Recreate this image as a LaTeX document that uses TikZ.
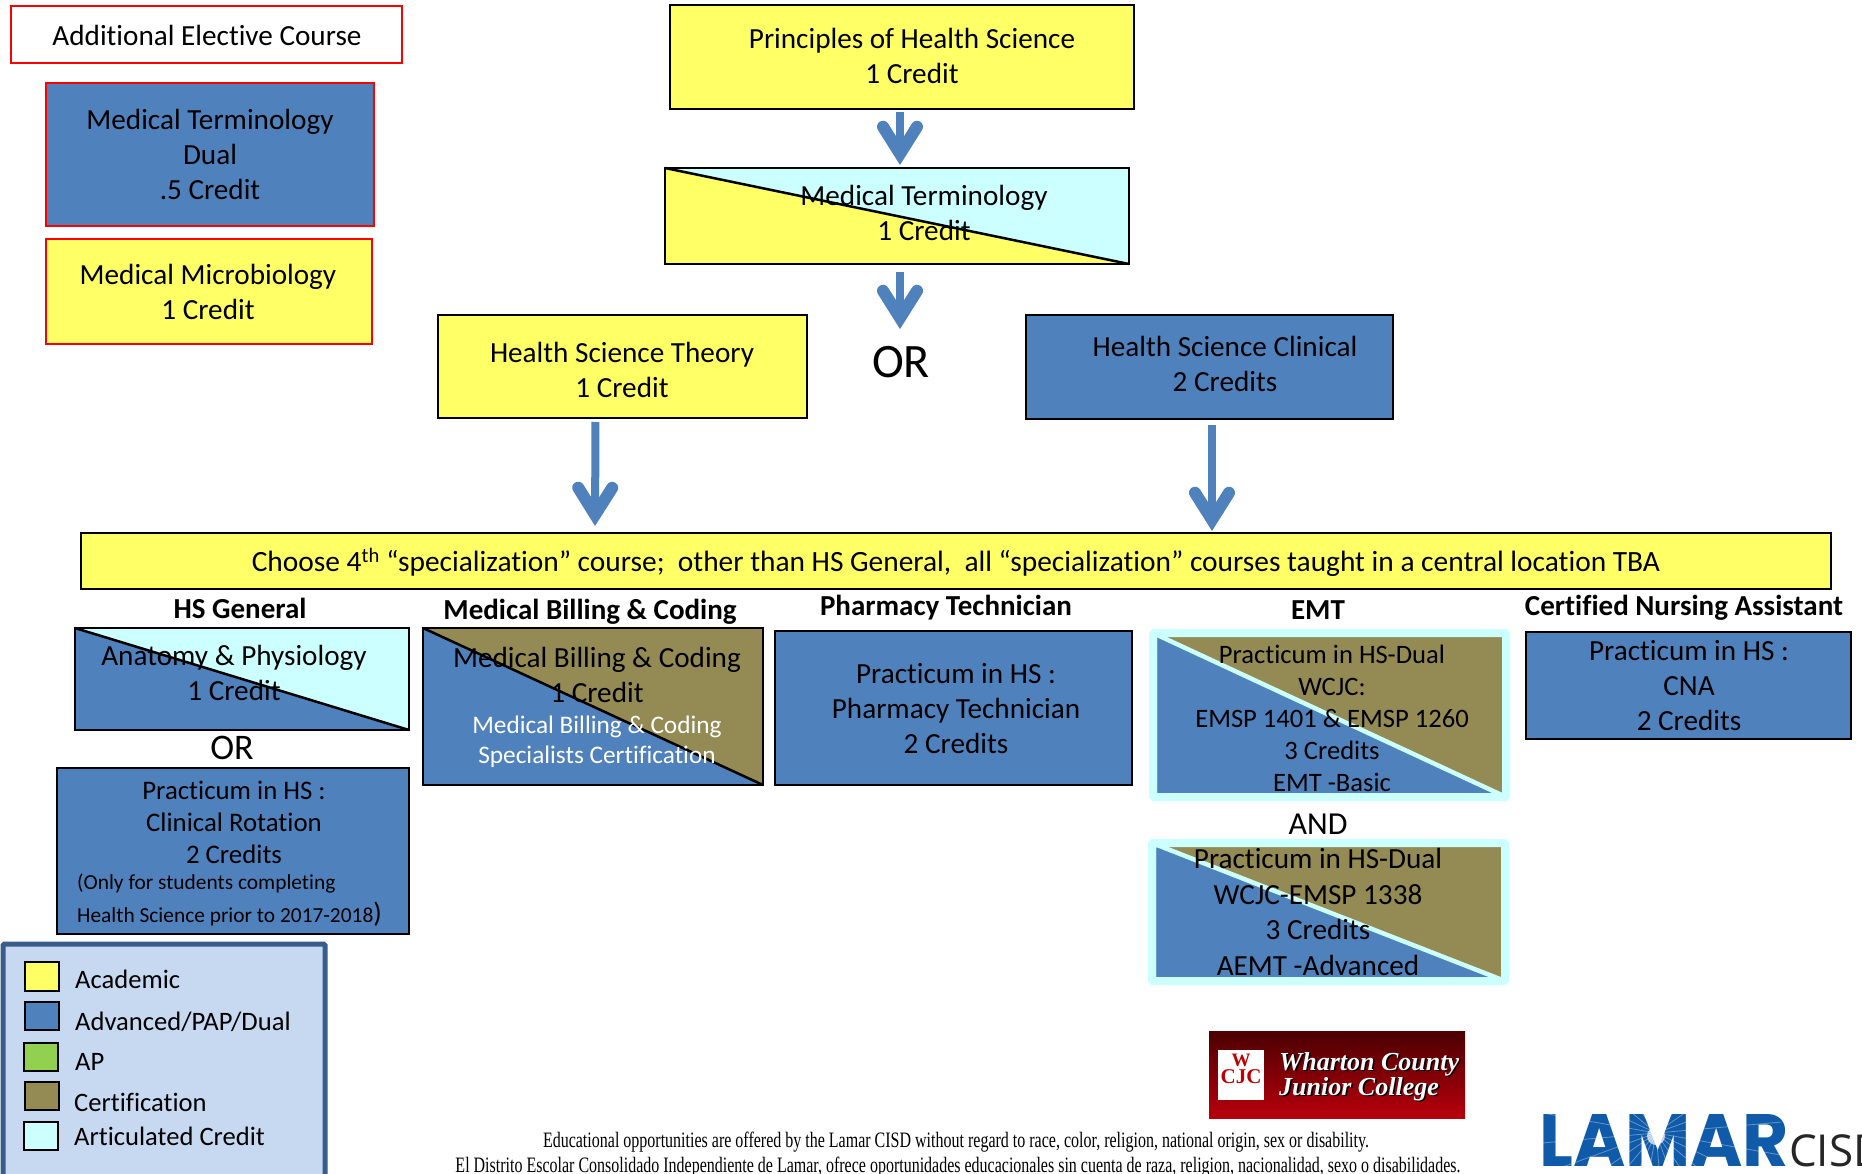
\documentclass[tikz,border=0pt]{standalone}
\usepackage{fontspec}
\usepackage{graphicx}
\setmainfont[Ligatures=CommonOff]{Carlito}
\newfontfamily\serifnote{Liberation Serif}
\newfontfamily\lamarfont{Poppins}
\newfontfamily\cisdfont{Open Sans}
\usetikzlibrary{arrows.meta}
\definecolor{cyel}{HTML}{FFFF66}
\definecolor{cblu}{HTML}{4F81BD}
\definecolor{colv}{HTML}{948A54}
\definecolor{ccya}{HTML}{CCFFFF}
\definecolor{cgrn}{HTML}{92D050}
\definecolor{cleg}{HTML}{C6D9F1}
\definecolor{cbrd}{HTML}{385D8A}
\definecolor{clam}{HTML}{0F5BAA}
\definecolor{wctop}{HTML}{4A0002}
\definecolor{wcbot}{HTML}{B8000C}
\newcommand{\fs}[2]{\fontsize{#1}{#2}\selectfont}
\newcommand{\mkbox}[6]{\node[cbox,#6,minimum width={(#4-#2)*1pt},minimum height={(#5-#3)*1pt}] (#1) at ({(#2+#4)/2},{(#3+#5)/2}) {};}
\newcommand{\splitbox}[7]{% name x1 y1 x2 y2 lowerfill upperfill
  \mkbox{#1}{#2}{#3}{#4}{#5}{fill=#6}
  \fill[#7] (#1.north west) -- (#1.north east) -- (#1.south east) -- cycle;
  \draw[line width=2.5pt] (#1.north west) -- (#1.south east);
  \draw[line width=2.5pt] (#1.north west) rectangle (#1.south east);}
\newcommand{\emtbox}[5]{% name x1 y1 x2 y2
  \mkbox{#1}{#2}{#3}{#4}{#5}{draw=ccya,line width=8pt,rounded corners=1.5pt,fill=cblu}
  \fill[colv] (#1.north west) -- (#1.north east) -- (#1.south east) -- cycle;
  \draw[ccya,line width=4.5pt] (#1.north west) -- (#1.south east);
  \draw[ccya,line width=8pt,rounded corners=1.5pt] (#1.north west) rectangle (#1.south east);}
\tikzset{
  cbox/.style={rectangle,draw=black,line width=2.5pt,outer sep=0pt,inner sep=0pt},
  redbox/.style={draw=red,line width=2.5pt},
  swatch/.style={cbox,line width=1.8pt},
  tx/.style={align=center,inner sep=0pt,font=\fs{29.2}{35}},
  head/.style={align=center,inner sep=0pt,font=\fs{29}{32}\bfseries},
  legtx/.style={anchor=base west,inner sep=0pt,font=\fs{26.6}{30}},
  flow/.style={draw=cblu,line width=8pt,-{Straight Barb[length=27pt,width=34pt,line width=12pt,line cap=round,line join=miter]}},
}
\begin{document}
\begin{tikzpicture}[x=1pt,y=-1pt]
\useasboundingbox (0,0) rectangle (1862,1173);
\clip (0,0) rectangle (1862,1173);
% left column
\mkbox{elective}{11}{6}{402}{63}{redbox,fill=white}
\node[tx] (telective) at (207,35) {Additional Elective Course};
\mkbox{dual}{46}{83}{374}{226}{redbox,fill=cblu}
\node[tx] (tdual) at (210,154) {Medical Terminology\\Dual\\.5 Credit};
\mkbox{micro}{46}{239}{372}{344}{redbox,fill=cyel}
\node[tx] (tmicro) at (208,292) {Medical Microbiology\\1 Credit};
% top chain
\mkbox{principles}{670}{5}{1134}{109}{fill=cyel}
\node[tx] (tprinciples) at (912,56) {Principles of Health Science\\1 Credit};
\splitbox{medterm}{665}{168}{1129}{264}{cyel}{ccya}
\node[tx] (tmedterm) at (924,213) {Medical Terminology\\1 Credit};
\mkbox{theory}{438}{315}{807}{418}{fill=cyel}
\node[tx] (ttheory) at (622,370) {Health Science Theory\\1 Credit};
\mkbox{clinical}{1026}{315}{1393}{419}{fill=cblu}
\node[tx] (tclinical) at (1225,364) {Health Science Clinical\\2 Credits};
\node[inner sep=0pt,font=\fs{48}{50}] (ortop) at (901,362) {OR};
\mkbox{choose}{81}{533}{1831}{589}{fill=cyel}
\node[tx,font=\fs{29.4}{35}] (tchoose) at (956,562) {Choose 4\textsuperscript{th} “specialization” course;\ \ other than HS General,\ \ all “specialization” courses taught in a central location TBA};
% arrows
\draw[flow,shorten <=3pt,shorten >=3pt] ([xshift=-2pt]principles.south) -- ([xshift=3pt]medterm.north);
\draw[flow,shorten <=8pt,shorten >=17pt] ([xshift=3pt]medterm.south) -- ([xshift=-1pt]ortop.north);
\draw[flow,shorten <=4pt,shorten >=7pt] ([xshift=-27pt]theory.south) -- (choose.north -| 595,0);
\draw[flow,shorten <=6pt,shorten >=2pt] ([xshift=2.5pt]clinical.south) -- (choose.north -| 1212,0);
% headings
\node[head] (h1) at (240,608) {HS General};
\node[head] (h2) at (590,612) {Medical Billing \& Coding};
\node[head] (h3) at (946,608) {Pharmacy Technician};
\node[head] (h4) at (1318,610) {EMT};
\node[head] (h5) at (1684,608) {Certified Nursing Assistant};
% HS General
\splitbox{anatomy}{75}{628}{409}{730}{cblu}{ccya}
\node[tx] (tanatomy) at (234,673) {Anatomy \& Physiology\\1 Credit};
\node[inner sep=0pt,font=\fs{36}{38}] (orhs) at (232,748) {OR};
\mkbox{rotation}{57}{768}{409}{934}{fill=cblu}
\node[tx,font=\fs{26.8}{32}] (trotation) at (234,822) {Practicum in HS :\\Clinical Rotation\\2 Credits};
\node[anchor=base west,inner sep=0pt,font=\fs{21.4}{24}] (tnote1) at (77,889) {(Only for students completing};
\node[anchor=base west,inner sep=0pt,font=\fs{21.4}{24}] (tnote2) at (77,922) {Health Science prior to 2017-2018{\fs{28}{30})}};
% Billing
\splitbox{billing}{423}{628}{763}{785}{cblu}{colv}
\node[tx] (tbilling) at (597,675) {Medical Billing \& Coding\\1 Credit};
\node[tx,font=\fs{25.3}{30},text=white] (tbilling2) at (597,742) {Medical Billing \& Coding\\Specialists Certification};
% Pharmacy
\mkbox{pharm}{775}{631}{1132}{785}{fill=cblu}
\node[tx] (tpharm) at (956,709) {Practicum in HS :\\Pharmacy Technician\\2 Credits};
% EMT
\emtbox{emta}{1153}{633}{1506}{797}
\node[tx,font=\fs{26.6}{32}] (temta) at (1332,718) {Practicum in HS-Dual\\WCJC:\\EMSP 1401 \& EMSP 1260\\3 Credits\\EMT -Basic};
\node[inner sep=0pt,font=\fs{32}{34}] (tand) at (1318,824) {AND};
\emtbox{emtb}{1152}{843}{1505}{981}
\node[tx,font=\fs{29.2}{35.5}] (temtb) at (1318,912) {Practicum in HS-Dual\\WCJC-EMSP 1338\\3 Credits\\AEMT -Advanced};
% CNA
\mkbox{cna}{1526}{632}{1851}{739}{fill=cblu}
\node[tx] (tcna) at (1689,686) {Practicum in HS :\\CNA\\2 Credits};
% legend
\mkbox{legend}{3}{944}{325}{1190}{draw=cbrd,line width=5pt,rounded corners=1.5pt,fill=cleg}
\mkbox{s1}{25}{962}{59}{991}{swatch,fill=cyel}
\mkbox{s2}{25}{1002}{59}{1030}{swatch,fill=cblu}
\mkbox{s3}{24}{1043}{58}{1071}{swatch,fill=cgrn}
\mkbox{s4}{25}{1082}{59}{1110}{swatch,fill=colv}
\mkbox{s5}{24}{1122}{58}{1150}{swatch,fill=ccya}
\node[legtx] (l1) at (75,988) {Academic};
\node[legtx] (l2) at (75,1030) {Advanced/PAP/Dual};
\node[legtx] (l3) at (75,1070) {AP};
\node[legtx] (l4) at (74,1111) {Certification};
\node[legtx] (l5) at (74,1145) {Articulated Credit};
% WCJC logo
\shade[top color=wctop,bottom color=wcbot] (1209,1031) rectangle (1465,1118);
\node[cbox,draw=none,fill=white,minimum width=46pt,minimum height=50pt] (wsq) at (1241,1075) {};
\node[inner sep=0pt,text=red!75!black,font=\serifnote\bfseries\fs{19}{19}] (w1) at (1241,1060) {W};
\node[inner sep=0pt,text=red!75!black,font=\serifnote\bfseries\fs{21}{21}] (wcjc) at (1241,1077) {CJC};
\newcommand{\shadowtext}[1]{\rlap{\hspace{1.6pt}\raisebox{-1.6pt}{\color{black}#1}}{\color{white}#1}}
\node[anchor=base west,inner sep=0pt,font=\serifnote\bfseries\itshape\fs{26}{26}] (wname1) at (1279,1070) {\shadowtext{Wharton County}};
\node[anchor=base west,inner sep=0pt,font=\serifnote\bfseries\itshape\fs{26}{26}] (wname2) at (1279,1095) {\shadowtext{Junior College}};
% disclaimer
\node[inner sep=0pt,font=\serifnote\fs{22}{24}] (d1) at (956,1142) {\resizebox{826pt}{\height}{Educational opportunities are offered by the Lamar CISD without regard to race, color, religion, national origin, sex or disability.}};
\node[inner sep=0pt,font=\serifnote\fs{22}{24}] (d2) at (958,1167) {\resizebox{1005pt}{\height}{El Distrito Escolar Consolidado Independiente de Lamar, ofrece oportunidades educacionales sin cuenta de raza, religion, nacionalidad, sexo o disabilidades.}};
% Lamar logo
\node[anchor=base west,inner sep=0pt,text=clam,font=\lamarfont\bfseries\fs{70}{72}] (lamar) at (1539,1166) {\resizebox{250pt}{52pt}{LAMAR}};
\foreach \a in {-80,-65,...,260}{
  \draw[white,opacity=.35,line width=.8pt] (1656,1133) -- ++(\a:125);
}
\shade[inner color=white,outer color=white,opacity=.7] (1656,1136) circle (9);
\node[anchor=base west,inner sep=0pt,text=black!85,font=\cisdfont\fs{44}{46}] (cisd) at (1789,1166) {CISD};
\end{tikzpicture}
\end{document}
